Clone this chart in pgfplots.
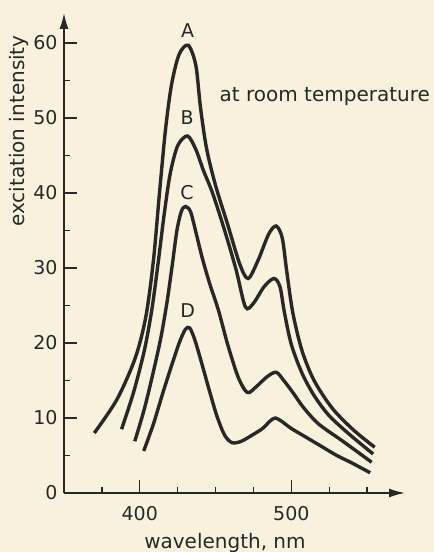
\documentclass[border=0pt]{standalone}
\usepackage{fontspec}
\setmainfont{DejaVu Sans}
\usepackage{pgfplots}
\pgfplotsset{compat=1.18}
\usetikzlibrary{arrows.meta}
\definecolor{paper}{RGB}{247,241,222}
\definecolor{ink}{RGB}{42,40,38}
\begin{document}
\fontsize{19bp}{23bp}\selectfont
\begin{tikzpicture}[x=1bp,y=1bp]
\fill[paper] (-64,-59) rectangle (370,493);
\path[use as bounding box] (-64,-59) rectangle (370,493);
\begin{axis}[
  at={(0,0)}, anchor=south west,
  scale only axis, width=341bp, height=480bp,
  xmin=350, xmax=575, ymin=0, ymax=64,
  axis lines=left,
  clip=false,
  x axis line style={ink, line width=1.5bp, -{Latex[length=16bp,width=9bp]}},
  y axis line style={ink, line width=1.5bp, -{Latex[length=16bp,width=9bp]}},
  tick align=inside,
  major tick length=13bp, minor tick length=6bp,
  every tick/.style={ink, line width=1.4bp},
  xtick={400,500}, minor xtick={375,425,450,475,525,550},
  ytick={0,10,...,60}, minor ytick={5,15,...,55},
  /pgf/number format/assume math mode=true,
  tick label style={font=\fontsize{19bp}{23bp}\selectfont, text=ink},
  xticklabel style={yshift=-7bp},
  xlabel={wavelength, nm},
  xlabel style={at={(axis description cs:0.472,-0.104)}, anchor=center, font=\fontsize{20bp}{24bp}\selectfont, text=ink},
  ylabel={excitation intensity},
  ylabel style={at={(axis description cs:-0.132,0.754)}, anchor=center, font=\fontsize{20bp}{24bp}\selectfont, text=ink},
]
% A
\addplot[ink, line width=3.4bp, smooth, tension=0.5] coordinates {
(370,8) (385,12.5) (397,18) (404,23.5) (409,31) (413,40) (417,48.5) (421,54.5) (426,58.5) (432,59.7)
(437,57) (440,51.5) (444,46) (450,41) (458,35.8) (466,30.5) (471.5,28.6) (478,31) (485,34.5) (490,35.6)
(494,34) (497,29.5) (501,24) (507,19) (515,15) (527,11.3) (541,8.4) (555,6.1)
};
% B
\addplot[ink, line width=3.4bp, smooth, tension=0.5] coordinates {
(388,8.5) (396,13.5) (403,19) (408,24.5) (412,30.5) (416,37) (420,42.5) (425,46.3) (431.5,47.6)
(437,45.8) (442,43) (448,40) (456,35) (463.5,29.8) (469.7,24.8) (475,25.3) (482,27.5) (488.5,28.6)
(492.5,27.5) (495.5,24) (500,19.8) (507,16) (515,13) (525,10.3) (539,7.7) (554,5.2)
};
% C
\addplot[ink, line width=3.4bp, smooth, tension=0.5] coordinates {
(396.7,6.9) (403,11.2) (409,16.2) (414,20.8) (418,25.5) (421.5,30.5) (424.5,35) (427.5,37.6) (430.3,38.2)
(433.5,37.5) (437,34.8) (441,31.5) (446,28) (452,24.3) (458,19.8) (465,15.4) (471,13.4) (477,14.2)
(484,15.5) (490,16.1) (495,15) (501,13.4) (508,11.4) (518,9.2) (534,6.9) (553,4.1)
};
% D
\addplot[ink, line width=3.4bp, smooth, tension=0.5] coordinates {
(402.6,5.6) (409,9.2) (415,13.2) (421,17) (426,20) (430,21.8) (433,22) (436.5,20.3) (441,17.2)
(446,13.6) (451,10.2) (456,7.7) (461,6.7) (467,6.9) (474,7.7) (481,8.6) (486,9.6) (489.5,10)
(494,9.5) (500,8.6) (510,7.4) (520,6.2) (530,5.0) (540,4.0) (552,2.7)
};
\node[ink, font=\fontsize{19bp}{23bp}\selectfont] at (axis cs:431.6,61.7) {A};
\node[ink, font=\fontsize{19bp}{23bp}\selectfont] at (axis cs:431.2,50.1) {B};
\node[ink, font=\fontsize{19bp}{23bp}\selectfont] at (axis cs:431.2,40.1) {C};
\node[ink, font=\fontsize{19bp}{23bp}\selectfont] at (axis cs:431.6,24.3) {D};
\node[ink, anchor=west, inner sep=0pt, font=\fontsize{20bp}{24bp}\selectfont] at (axis cs:452.6,52.8) {at room temperature};
\end{axis}
\end{tikzpicture}
\end{document}
